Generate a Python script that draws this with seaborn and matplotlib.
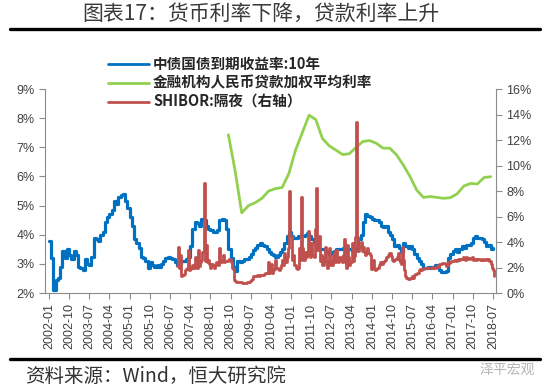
"""
Chart 17: money-market rates fall, loan rates rise.
10Y CGB yield, weighted avg lending rate (left axis), SHIBOR O/N (right axis).
"""
import pandas as pd
import matplotlib
matplotlib.use("Agg")
import matplotlib.pyplot as plt
import matplotlib.dates as mdates
from matplotlib.lines import Line2D
from matplotlib.ticker import FuncFormatter
from matplotlib.font_manager import FontProperties
import seaborn as sns

sns.set_style("white")
plt.rcParams["font.family"] = ["Liberation Sans", "Noto Sans CJK SC", "DejaVu Sans"]

C_BLUE = "#0070C0"; C_GREEN = "#92D050"; C_RED = "#C0504D"; C_AX = "#8c8c8c"; C_TXT = "#404040"

# ── data ──────────────────────────────────────────────────────────
# 中债国债到期收益率:10年, monthly 2002-01 .. 2018-07 (%)
cgb10_2002_2006 = [3.8, 3.2, 2.1, 2.45, 2.5, 2.9, 3.45, 3.2, 3.5, 3.3, 3.15, 3.45,
                   3.3, 2.9, 2.85, 2.8, 3.15, 3.0, 2.95, 3.25, 3.9, 3.85, 3.8, 4.0,
                   4.1, 4.45, 4.6, 4.7, 4.85, 5.15, 5.05, 5.3, 5.35, 5.4, 5.15, 4.9,
                   4.6, 4.3, 3.85, 3.7, 3.55, 3.25, 3.2, 3.1, 2.85, 3.05, 2.95, 2.9,
                   2.95, 2.9, 3.0, 3.1, 3.2, 3.25, 3.2, 3.15, 3.05, 2.95, 3.0, 3.1]
cgb10_2007_2012 = [3.1, 3.15, 3.25, 3.6, 4.2, 4.45, 4.4, 4.3, 4.55, 4.5, 4.3, 4.2,
                   4.15, 4.1, 4.1, 4.15, 4.5, 4.55, 4.5, 4.2, 3.5, 3.2, 2.9, 2.75,
                   3.1, 3.05, 3.1, 3.15, 3.18, 3.25, 3.35, 3.47, 3.55, 3.65, 3.7, 3.65,
                   3.6, 3.5, 3.4, 3.35, 3.3, 3.25, 3.3, 3.4, 3.5, 3.7, 3.95, 4.1,
                   3.95, 3.9, 3.9, 3.95, 3.95, 3.95, 4.0, 4.05, 3.95, 3.85, 3.75, 3.55,
                   3.5, 3.5, 3.5, 3.45, 3.4, 3.35, 3.4, 3.45, 3.5, 3.5, 3.5, 3.55]
cgb10_2013_2018 = [3.55, 3.5, 3.5, 3.45, 3.45, 3.5, 3.85, 4.0, 4.45, 4.7, 4.65, 4.6,
                   4.55, 4.5, 4.5, 4.45, 4.3, 4.25, 4.3, 4.1, 4.0, 3.85, 3.6, 3.65,
                   3.55, 3.4, 3.7, 3.6, 3.55, 3.6, 3.5, 3.35, 3.2, 3.1, 3.0, 2.85,
                   2.85, 2.9, 2.85, 2.9, 2.95, 2.9, 2.8, 2.72, 2.72, 2.75, 3.2, 3.35,
                   3.45, 3.5, 3.4, 3.5, 3.6, 3.55, 3.65, 3.65, 3.7, 3.9, 3.95, 3.9,
                   3.9, 3.85, 3.75, 3.6, 3.65, 3.5, 3.55]
cgb10 = cgb10_2002_2006 + cgb10_2007_2012 + cgb10_2013_2018

# 金融机构人民币贷款加权平均利率, quarterly 2008-09 .. 2018-06 (%)
loan_rate = [7.43, 6.2,
             4.75, 5.0, 5.1, 5.25, 5.5, 5.58, 5.62, 6.1, 6.9, 7.5, 8.1, 7.95,
             7.3, 7.05, 6.9, 6.75, 6.78, 7.0, 7.2, 7.23, 7.14, 6.97, 6.97, 6.74,
             6.4, 6.0, 5.53, 5.28, 5.31, 5.28, 5.25, 5.27, 5.4, 5.67, 5.76, 5.74,
             5.96, 5.99]

# SHIBOR:隔夜, twice a month 2006-10 .. 2018-07 (%)
shibor_2006 = [2.1, 3.6, 2.0, 3.0, 1.3, 1.4]
shibor_2007 = [1.5, 1.8, 1.9, 2.0, 3.4, 1.8, 1.9, 2.0, 2.2, 2.0, 2.8, 2.2,
               2.0, 3.4, 2.1, 2.4, 2.6, 3.2, 8.6, 2.5, 3.8, 2.4, 2.6, 2.3]
shibor_2008 = [2.0, 2.3, 2.2, 2.0, 2.2, 2.4, 2.3, 2.2, 3.5, 2.4, 2.5, 3.0,
               2.4, 2.5, 2.5, 2.5, 2.6, 2.7, 2.4, 2.0, 1.9, 1.0, 0.95, 0.9]
shibor_2009 = [0.9, 0.85, 0.85, 0.85, 0.8, 0.8, 0.8, 0.8, 0.8, 0.85, 0.9, 0.95,
               1.0, 1.1, 1.3, 1.3, 1.35, 1.3, 1.4, 1.35, 1.4, 1.4, 1.45, 1.4]
shibor_2010 = [1.5, 1.6, 1.6, 2.4, 1.6, 1.7, 2.3, 1.6, 1.8, 1.9, 2.6, 2.0,
               1.9, 1.8, 2.0, 2.2, 2.6, 2.2, 3.1, 2.4, 2.8, 3.5, 8.0, 4.5]
shibor_2011 = [4.5, 2.6, 3.0, 2.2, 2.0, 1.9, 2.0, 3.5, 2.6, 7.5, 3.5, 2.6,
               3.2, 2.8, 3.2, 4.9, 3.0, 2.8, 3.9, 3.0, 2.8, 5.0, 8.2, 3.4]
shibor_2012 = [3.5, 4.5, 2.5, 3.0, 2.2, 2.8, 3.6, 2.5, 2.0, 2.2, 3.5, 2.5,
               2.2, 3.0, 3.2, 2.4, 3.4, 2.6, 2.4, 2.8, 2.6, 2.4, 3.0, 4.2]
shibor_2013 = [2.4, 2.0, 3.8, 2.8, 2.2, 2.4, 3.9, 2.5, 2.9, 4.4, 13.4, 4.4,
               3.3, 3.6, 4.0, 3.3, 3.6, 3.2, 3.0, 3.2, 3.5, 3.1, 3.0, 1.9]
shibor_2014 = [2.0, 2.6, 1.9, 1.8, 1.9, 2.0, 2.2, 2.4, 2.4, 2.3, 2.4, 2.5,
               2.6, 2.8, 3.0, 3.1, 3.1, 2.9, 2.6, 2.5, 2.6, 2.7, 2.8, 3.1]
shibor_2015 = [2.6, 2.4, 2.3, 3.6, 2.6, 1.8, 1.3, 1.2, 1.1, 1.1, 1.2, 1.2,
               1.3, 1.2, 1.4, 1.5, 1.6, 1.6, 1.8, 1.9, 1.8, 1.9, 1.9, 1.95]
shibor_2016 = [1.95, 2.0, 2.0, 1.95, 2.0, 2.0, 2.05, 2.0, 2.0, 2.05, 2.1, 2.05,
               2.3, 2.3, 2.3, 2.35, 2.35, 2.3, 2.1, 2.2, 2.4, 2.35, 2.4, 2.5]
shibor_2017 = [2.5, 2.6, 2.6, 2.5, 2.6, 2.7, 2.6, 2.7, 2.7, 2.8, 2.7, 2.6,
               2.8, 2.7, 2.7, 2.75, 2.7, 2.8, 2.6, 2.65, 2.7, 2.6, 2.65, 2.7]
shibor_2018 = [2.6, 2.55, 2.7, 2.6, 2.6, 2.7, 2.65, 2.6, 2.7, 2.5, 2.3, 2.0, 1.8, 1.3]
shibor = (shibor_2006 + shibor_2007 + shibor_2008 + shibor_2009 + shibor_2010 + shibor_2011
          + shibor_2012 + shibor_2013 + shibor_2014 + shibor_2015 + shibor_2016
          + shibor_2017 + shibor_2018)

labels = ["中债国债到期收益率:10年", "金融机构人民币贷款加权平均利率", "SHIBOR:隔夜（右轴）"]

d_cgb = pd.date_range("2002-01-01", periods=len(cgb10), freq="MS")
d_loan = pd.date_range("2008-09-01", periods=len(loan_rate), freq="3MS")
d_shibor = pd.date_range("2006-10-01", periods=len(shibor), freq="SMS")

# ── figure ────────────────────────────────────────────────────────
fig = plt.figure(figsize=(5.5, 3.92), dpi=100)
ax = fig.add_axes([45/550, 1-293/392, (496-45)/550, (293-89)/392])
ax2 = ax.twinx()

sns.lineplot(x=d_cgb, y=cgb10, ax=ax, color=C_BLUE, lw=2.3, drawstyle="steps-post")
sns.lineplot(x=d_loan, y=loan_rate, ax=ax, color=C_GREEN, lw=2)
sns.lineplot(x=d_shibor, y=shibor, ax=ax2, color=C_RED, lw=2, drawstyle="steps-post")

ax.set_xlim(pd.Timestamp("2001-11-08"), pd.Timestamp("2018-08-12"))
ax.set_ylim(2, 9); ax2.set_ylim(0, 16)
ax.set_yticks(range(2, 10)); ax2.set_yticks(range(0, 17, 2))
pct = FuncFormatter(lambda v, _: f"{v:.0f}%")
ax.yaxis.set_major_formatter(pct); ax2.yaxis.set_major_formatter(pct)
ax.set_xticks(pd.date_range("2002-01-01", "2018-07-01", freq="9MS"))
ax.xaxis.set_major_formatter(mdates.DateFormatter("%Y-%m"))
ax.set_xlabel(""); ax.set_ylabel(""); ax2.set_ylabel("")

for a in (ax, ax2):
    a.grid(False)
    a.spines["top"].set_visible(False)
    for s in ("left", "right", "bottom"):
        a.spines[s].set_color(C_AX)
    a.tick_params(colors=C_AX, labelcolor=C_TXT, labelsize=9, length=4, width=0.8)
ax.spines["right"].set_visible(False)
ax2.spines["left"].set_visible(False); ax2.spines["bottom"].set_visible(False)
ax.tick_params(axis="x", rotation=90, direction="out", bottom=True)
ax.tick_params(axis="y", left=True, direction="out")
ax2.tick_params(axis="y", right=True, direction="out")

# legend sits partly above the plot area, as in the original
leg_font = FontProperties(family=["Noto Sans CJK SC", "DejaVu Sans"], weight="bold", size=10.5)
handles = [Line2D([], [], color=c, lw=2) for c in (C_BLUE, C_GREEN, C_RED)]
fig.legend(handles, labels, loc="upper left", bbox_to_anchor=(102/550, 1-50/392),
           frameon=False, prop=leg_font, handlelength=2.8, handletextpad=0.3,
           labelspacing=0.2, borderaxespad=0)

# title, rules, source
cjk = ["Noto Sans CJK SC", "DejaVu Sans"]
fig.text(0.475, 1-14/392, "图表17：货币利率下降，贷款利率上升", ha="center", va="center",
         fontsize=15, color="#3a3a3a", family=cjk)
fig.add_artist(Line2D([10/550, 540/550], [1-29/392]*2, color="black", lw=2.4))
fig.add_artist(Line2D([10/550, 540/550], [1-359/392]*2, color="black", lw=2.4))
fig.text(25/550, 1-376/392, "资料来源：Wind，恒大研究院", ha="left", va="center",
         fontsize=14, color="#333333", family=cjk, style="italic")
fig.text(535/550, 1-370/392, "泽平宏观", ha="right", va="center",
         fontsize=10, color="#b5b5b5", family=cjk)

fig.savefig("out.png", dpi=100)
plt.close(fig)
